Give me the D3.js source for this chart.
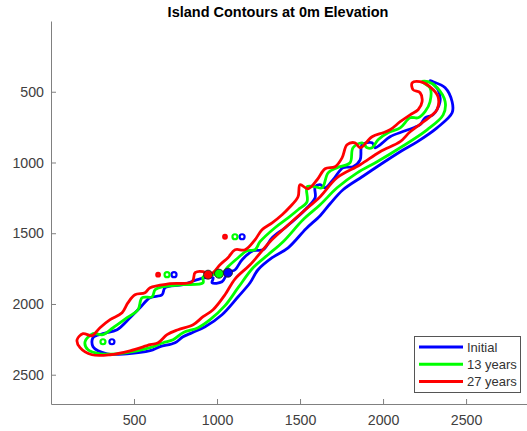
<!DOCTYPE html>
<html><head><meta charset="utf-8">
<script src="https://cdn.jsdelivr.net/npm/d3@7/dist/d3.min.js"></script>
<style>html,body{margin:0;padding:0;background:#fff}svg{display:block}text{font-family:"Liberation Sans",Arial,sans-serif}</style>
</head><body><div id="c"></div>
<script>
const seriesNames = ["Initial","13 years","27 years"];
const seriesColors = ["#0000ff","#00ff00","#ff0000"];
const xTicks = [500,1000,1500,2000,2500];
const yTicks = [500,1000,1500,2000,2500];
const contourInitial = [[2283,422],[2331,486],[2343,571],[2301,663],[2253,684],[2223,733],[2133,776],[2042,818],[1982,875],[1952,896],[1934,861],[1874,875],[1862,981],[1819,1030],[1759,1037],[1699,1122],[1651,1179],[1621,1157],[1591,1172],[1591,1249],[1542,1320],[1500,1369],[1410,1461],[1332,1532],[1277,1617],[1217,1624],[1151,1687],[1109,1758],[1066,1779],[1030,1843],[970,1850],[976,1815],[898,1822],[795,1864],[687,1885],[669,1935],[596,1956],[536,2027],[476,2097],[398,2182],[313,2210],[253,2238],[253,2302],[337,2352],[458,2352],[597,2330],[657,2302],[747,2274],[795,2232],[850,2203],[928,2161],[1030,2076],[1127,1949],[1199,1850],[1247,1758],[1332,1673],[1428,1603],[1536,1468],[1621,1376],[1681,1292],[1759,1193],[1874,1101],[1982,1016],[2103,924],[2205,854],[2325,755],[2416,649],[2416,571],[2374,472],[2301,429]];
const contour13 = [[2235,429],[2283,472],[2283,571],[2253,641],[2211,684],[2163,684],[2103,755],[2030,790],[1970,839],[1934,896],[1904,896],[1874,861],[1819,896],[1801,1002],[1723,1037],[1669,1073],[1633,1179],[1591,1172],[1542,1172],[1542,1278],[1488,1334],[1428,1391],[1349,1461],[1259,1560],[1229,1617],[1181,1624],[1127,1673],[1066,1737],[1036,1779],[1012,1786],[916,1808],[916,1850],[795,1864],[675,1878],[627,1899],[609,1949],[548,1956],[524,2041],[458,2097],[374,2168],[313,2217],[253,2210],[205,2267],[223,2324],[295,2352],[398,2352],[518,2331],[597,2309],[675,2274],[735,2253],[795,2203],[886,2168],[958,2111],[1048,2012],[1127,1885],[1217,1744],[1307,1652],[1398,1560],[1518,1405],[1621,1299],[1723,1179],[1844,1073],[1964,995],[2103,896],[2265,769],[2362,663],[2374,571],[2326,472],[2271,429]];
const contour27 = [[2175,437],[2181,486],[2223,507],[2235,571],[2211,627],[2163,663],[2103,712],[2042,769],[2000,790],[1934,818],[1862,896],[1831,861],[1783,875],[1753,967],[1711,1030],[1651,1044],[1603,1122],[1548,1186],[1500,1157],[1488,1242],[1440,1313],[1392,1369],[1332,1426],[1271,1475],[1229,1546],[1169,1617],[1109,1617],[1066,1673],[1018,1723],[976,1779],[946,1793],[916,1772],[868,1779],[850,1843],[717,1857],[597,1885],[566,1921],[506,1935],[464,1991],[428,2062],[356,2111],[295,2168],[247,2224],[193,2210],[157,2253],[175,2309],[247,2359],[356,2359],[476,2331],[597,2288],[645,2274],[699,2217],[765,2182],[856,2147],[916,2090],[976,2041],[1048,1935],[1109,1822],[1199,1723],[1319,1560],[1410,1461],[1518,1348],[1621,1242],[1723,1108],[1862,1016],[1982,924],[2103,853],[2163,783],[2283,677],[2325,627],[2331,535],[2283,465],[2223,429]];
const contours = [contourInitial, contour13, contour27];
const bigMarkers = [[1066,1779],[1012,1786],[946,1793]];
const smallRings = [
  [[1151,1525],[741,1793],[367,2267]],
  [[1108,1525],[699,1793],[313,2267]],
  [[1048,1525],[645,1793]]
];
const W=527,H=431,L=51,R=527,T=21,B=404;
const x=d3.scaleLinear().domain([0,2867]).range([L,R]);
const y=d3.scaleLinear().domain([0,2707]).range([T,B]);
const svg=d3.select("#c").append("svg").attr("width",W).attr("height",H);
const axisColor="#808080",labelColor="#404040";
const gx=svg.append("g").attr("transform",`translate(0,${B})`).call(d3.axisBottom(x).tickValues(xTicks).tickFormat(d3.format("d")).tickSizeInner(-5).tickSizeOuter(0).tickPadding(11));
const gy=svg.append("g").attr("transform",`translate(${L},0)`).call(d3.axisLeft(y).tickValues(yTicks).tickFormat(d3.format("d")).tickSizeInner(-5).tickSizeOuter(0).tickPadding(7));
[gx,gy].forEach(g=>{g.selectAll("path,line").attr("stroke",axisColor).attr("stroke-width",1);
 g.selectAll("text").attr("fill",labelColor).style("font-size","14.2px").style("font-family",'"Liberation Sans",Arial,sans-serif');});
const line=d3.line().x(d=>x(d[0])).y(d=>y(d[1])).curve(d3.curveCatmullRomClosed.alpha(0.5));
contours.forEach((c,i)=>{
  svg.append("path").attr("d",line(c)).attr("fill","none").attr("stroke",seriesColors[i]).attr("stroke-width",2.8).attr("stroke-linejoin","round");
});
smallRings.forEach((s,i)=>{
  svg.append("g").selectAll("circle").data(s).join("circle").attr("cx",d=>x(d[0])).attr("cy",d=>y(d[1])).attr("r",i==2?1.8:2.5)
   .attr("fill",i==2?"#d02050":"none").attr("stroke",seriesColors[i]).attr("stroke-width",i==2?2.2:2.2);
});
bigMarkers.slice().reverse().forEach((m,i)=>{
  svg.append("circle").attr("cx",x(m[0])).attr("cy",y(m[1])).attr("r",4.5).attr("fill",seriesColors[2-i]).attr("stroke","#222").attr("stroke-width",0.9);
});
svg.append("text").attr("x",278).attr("y",17).attr("text-anchor","middle").attr("font-weight","bold").attr("font-size",14.5).attr("fill","#000").text("Island Contours at 0m Elevation");
const lg=svg.append("g");
lg.append("rect").attr("x",414.5).attr("y",336.5).attr("width",106).attr("height",56).attr("fill","#fff").attr("stroke","#555").attr("stroke-width",1);
seriesNames.forEach((n,i)=>{
  const ly=347+i*17.3;
  lg.append("line").attr("x1",419).attr("x2",463).attr("y1",ly).attr("y2",ly).attr("stroke",seriesColors[i]).attr("stroke-width",3);
  lg.append("text").attr("x",467).attr("y",ly+4.5).attr("font-size",13).attr("fill","#333").text(n);
});
</script></body></html>
